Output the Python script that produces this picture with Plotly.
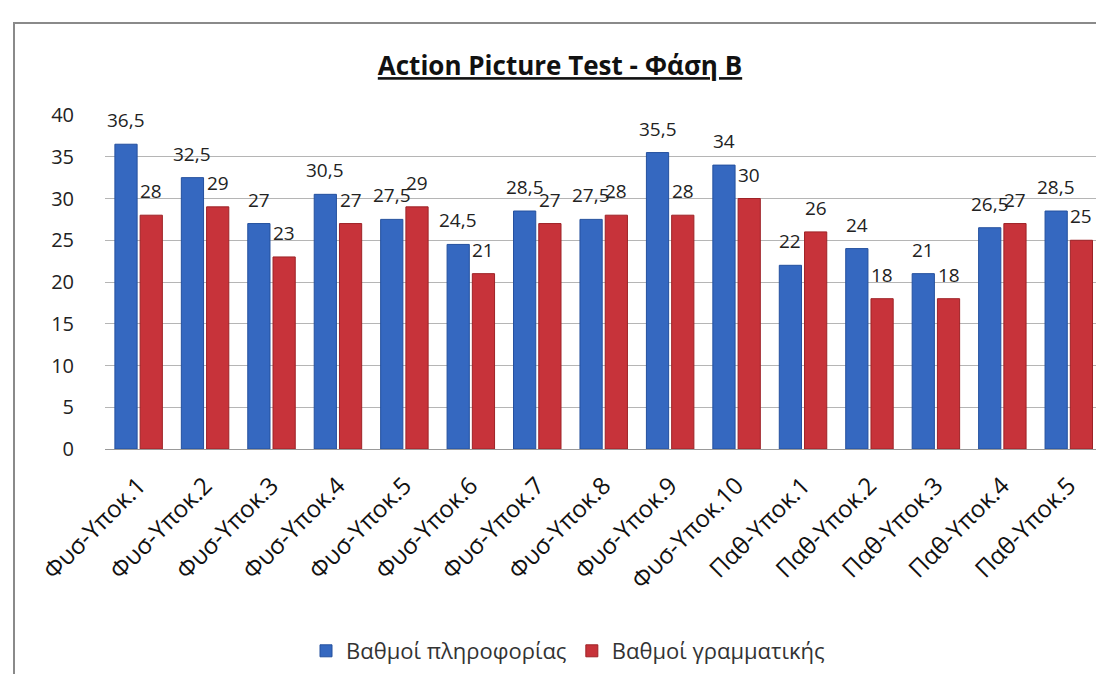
import plotly.graph_objects as go

categories = ["Φυσ-Υποκ.1", "Φυσ-Υποκ.2", "Φυσ-Υποκ.3", "Φυσ-Υποκ.4", "Φυσ-Υποκ.5",
              "Φυσ-Υποκ.6", "Φυσ-Υποκ.7", "Φυσ-Υποκ.8", "Φυσ-Υποκ.9", "Φυσ-Υποκ.10",
              "Παθ-Υποκ.1", "Παθ-Υποκ.2", "Παθ-Υποκ.3", "Παθ-Υποκ.4", "Παθ-Υποκ.5"]
info_scores = [36.5, 32.5, 27, 30.5, 27.5, 24.5, 28.5, 27.5, 35.5, 34, 22, 24, 21, 26.5, 28.5]
grammar_scores = [28, 29, 23, 27, 29, 21, 27, 28, 28, 30, 26, 18, 18, 27, 25]
series_names = ["Βαθμοί πληροφορίας", "Βαθμοί γραμματικής"]
y_ticks = [0, 5, 10, 15, 20, 25, 30, 35, 40]

W, H = 1104, 674
L, R, T, B = 97, 10, 107, 233
pw, ph = W - L - R, H - T - B
BARGAP, GROUPGAP = 0.24, 0.12

def px_x(x):
    return (x - L) / pw

def px_y(y):
    return 1 - (y - T) / ph

slot = pw / len(categories) * (1 - BARGAP) / 2

fig = go.Figure()
annotations = []
for i, (name, vals, col, edge) in enumerate([(series_names[0], info_scores, "#3568C0", "#24509E"),
                                             (series_names[1], grammar_scores, "#C7333A", "#9E2226")]):
    fig.add_trace(go.Bar(
        x=categories, y=vals, name=name,
        marker=dict(color=col, line=dict(color=edge, width=1)),
    ))
    shift = (i - 0.5) * slot
    for c, v in zip(categories, vals):
        annotations.append(dict(
            x=c, y=v, xref="x", yref="y", text=f"{v:g}".replace(".", ","),
            showarrow=False, xanchor="center", yanchor="bottom", xshift=shift, yshift=9,
            font=dict(size=19, color="#222222", family="Open Sans"),
        ))

fig.update_layout(
    width=W, height=H,
    margin=dict(l=L, r=R, t=T, b=B),
    paper_bgcolor="white", plot_bgcolor="white",
    separators=",.",
    barmode="group", bargap=BARGAP, bargroupgap=GROUPGAP,
    font=dict(family="Open Sans", color="#222222"),
    title=dict(text="<b><u>Action Picture Test - Φάση Β</u></b>", x=0.5, xanchor="center",
               y=1 - 58 / H, yanchor="middle", xref="container", yref="container",
               font=dict(size=26, family="Open Sans", color="#111111")),
    legend=dict(orientation="h", x=px_x(560), xanchor="center", y=px_y(643), yanchor="middle",
                font=dict(size=22, color="#333333"), traceorder="normal"),
    xaxis=dict(tickangle=-45, tickfont=dict(size=24, color="#111111"), showline=True,
               linecolor="#999999", ticks="", showgrid=False, ticklabelstandoff=12),
    yaxis=dict(range=[0, 40], tickvals=y_ticks, tickfont=dict(size=20, color="#222222"),
               showgrid=True, gridcolor="#B5B5B5", gridwidth=1, zeroline=False,
               showline=False, ticklabelstandoff=30),
    annotations=annotations,
    shapes=[dict(type="rect", xref="paper", yref="paper",
                 x0=px_x(6), x1=px_x(1110), y0=px_y(680), y1=px_y(15),
                 line=dict(color="#8A8A8A", width=2), fillcolor="rgba(0,0,0,0)", layer="below")],
    showlegend=True,
)

fig.write_html("out.html")
